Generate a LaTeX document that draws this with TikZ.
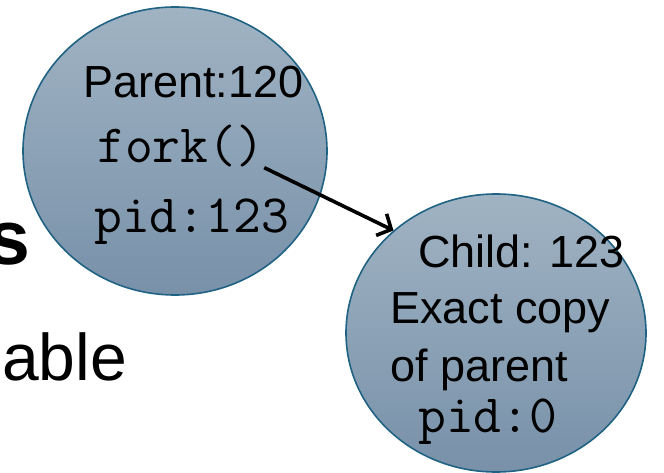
\documentclass[tikz,border=0pt]{standalone}
\usepackage{fontspec}
\setmainfont{Liberation Sans}
\usetikzlibrary{shapes.geometric,arrows.meta}
\definecolor{bubtop}{HTML}{A0B3C3}
\definecolor{bubbot}{HTML}{7891A9}
\definecolor{bubline}{HTML}{1F6283}
\tikzset{
  bubble/.style={ellipse, draw=bubline, line width=1.6pt, top color=bubtop, bottom color=bubbot, inner sep=0pt},
  sanstext/.style={anchor=base west, inner sep=0pt, font=\fontsize{45}{50}\selectfont},
  monotext/.style={anchor=base west, inner sep=0pt, font=\ttfamily\fontsize{54}{58}\selectfont},
  bgtext/.style={anchor=base east, inner sep=0pt},
  forkarrow/.style={line width=3.6pt, -{Straight Barb[length=11pt,width=24pt,line width=3.6pt]}}
}
\begin{document}
\begin{tikzpicture}[x=1pt,y=-1pt]
\useasboundingbox (0,0) rectangle (664,473);
\clip (0,0) rectangle (664,473);
% background slide text
\node[bgtext, font=\bfseries\fontsize{77}{80}\selectfont] (bgs) at (31,265) {s};
\node[bgtext, font=\fontsize{66}{70}\selectfont] (bgable) at (127,380) {able};
% bubbles
\node[bubble, minimum width=304pt, minimum height=288pt] (parent) at (175,151) {};
\node[bubble, minimum width=300pt, minimum height=278pt] (child) at (496,333) {};
% parent texts
\node[sanstext] (ptitle) at (83,98) {Parent:120};
\node[monotext] (fork) at (97,163) {fork()};
\node[monotext] (ppid) at (94,233) {pid:123};
% child texts
\node[sanstext] (ctitle) at (418,267) {Child: 123};
\node[sanstext] (copy1) at (390,323) {Exact copy};
\node[sanstext] (copy2) at (390,381) {of parent};
\node[monotext] (cpid) at (418,432) {pid:0};
% arrow
\draw[forkarrow] (fork.south east) -- (child.135);
\end{tikzpicture}
\end{document}
